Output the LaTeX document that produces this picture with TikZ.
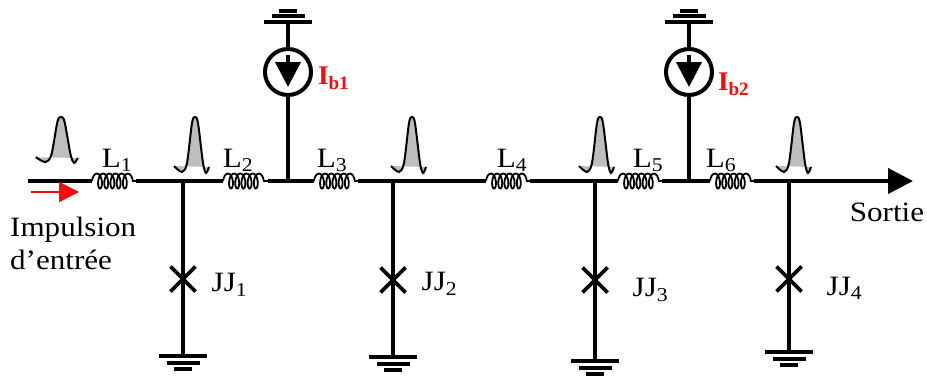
\documentclass[tikz,border=0pt]{standalone}
\usepackage{fontspec}
\setmainfont[FakeStretch=1.11]{Liberation Serif}
\newfontfamily\currentfont{Liberation Serif}
\usepackage{tikz}
\usetikzlibrary{shapes,shapes.misc,arrows.meta,positioning,decorations.pathmorphing}
\definecolor{red}{RGB}{250, 10, 10}
\definecolor{pulsegray}{RGB}{190, 190, 190}
\tikzstyle{twire} = [draw, line width=4pt, black]
\tikzstyle{tcoil} = [draw, line width=1.8pt, black, decorate, decoration={coil, aspect=0.45, segment length=6.2pt, amplitude=7.5pt}]
\tikzstyle{jj} = [cross out, draw=black, line width=3.6pt, minimum size=25pt, inner sep=0pt, outer sep=0pt]
\tikzstyle{source} = [circle, draw=black, line width=4pt, fill=white, minimum size=46pt, inner sep=0pt]
\tikzstyle{label} = [inner sep=0pt, font=\fontsize{28}{33}\selectfont]
\tikzstyle{current} = [inner sep=0pt, text=red, font=\fontsize{27}{28}\currentfont\bfseries]
\tikzstyle{tsense} = [draw, line width=1.5pt, red, -{Triangle[length=20pt,width=20pt]}]
\tikzset{
  pics/gnd/.style={code={
    \draw[line width=4pt] (-24,0) -- (24,0);
    \draw[line width=4pt] (-16.5,-7) -- (16.5,-7);
    \draw[line width=4pt] (-9,-13) -- (9,-13);
  }},
  pics/pulse/.style={code={
    \fill[pulsegray] plot[smooth] coordinates {(-21,-49) (-13,-55) (-8,-46) (-3,-6) (0,0) (3,-6) (8,-46) (11,-56) (14,-50)} -- cycle;
    \draw[line width=2pt] plot[smooth] coordinates {(-21,-49) (-13,-55) (-8,-46) (-3,-6) (0,0) (3,-6) (8,-46) (11,-56) (14,-50)};
  }}
}
\begin{document}
\begin{tikzpicture}[x=1pt, y=1pt]
\useasboundingbox (0,0) rectangle (927,376);

% main line ==============================

\coordinate (in) at (28,195);
\coordinate[right=64pt of in] (l1in);
\coordinate[right=44pt of l1in] (l1out);
\coordinate[right=47pt of l1out] (j1);
\coordinate[right=40pt of j1] (l2in);
\coordinate[right=45pt of l2in] (l2out);
\coordinate[right=20pt of l2out] (b1);
\coordinate[right=26pt of b1] (l3in);
\coordinate[right=44pt of l3in] (l3out);
\coordinate[right=35pt of l3out] (j2);
\coordinate[right=93pt of j2] (l4in);
\coordinate[right=44pt of l4in] (l4out);
\coordinate[right=65pt of l4out] (j3);
\coordinate[right=23pt of j3] (l5in);
\coordinate[right=44pt of l5in] (l5out);
\coordinate[right=27pt of l5out] (b2);
\coordinate[right=21pt of b2] (l6in);
\coordinate[right=44pt of l6in] (l6out);
\coordinate[right=35pt of l6out] (j4);
\coordinate[right=124pt of j4] (out);

% junctions to ground
\node[jj, below=85.5pt of j1] (jj1) {};
\node[jj, below=86.5pt of j2] (jj2) {};
\node[jj, below=86.5pt of j3] (jj3) {};
\node[jj, below=85.5pt of j4] (jj4) {};
\coordinate[below=77pt of jj1.center] (g1);
\coordinate[below=77pt of jj2.center] (g2);
\coordinate[below=81pt of jj3.center] (g3);
\coordinate[below=73pt of jj4.center] (g4);

% bias sources
\node[source, above=84pt of b1] (s1) {};
\node[source, above=84pt of b2] (s2) {};
\coordinate[above=50pt of s1.center] (gt1);
\coordinate[above=50pt of s2.center] (gt2);
\coordinate[above=17pt of s1.center] (s1top);
\coordinate[below=15pt of s1.center] (s1tip);
\coordinate[above=17pt of s2.center] (s2top);
\coordinate[below=15pt of s2.center] (s2tip);

% edges ==================================

\path[twire] (in) -- (l1in);
\path[tcoil] (l1in) -- (l1out);
\path[twire] (l1out) -- (l2in);
\path[tcoil] (l2in) -- (l2out);
\path[twire] (l2out) -- (l3in);
\path[tcoil] (l3in) -- (l3out);
\path[twire] (l3out) -- (l4in);
\path[tcoil] (l4in) -- (l4out);
\path[twire] (l4out) -- (l5in);
\path[tcoil] (l5in) -- (l5out);
\path[twire] (l5out) -- (l6in);
\path[tcoil] (l6in) -- (l6out);
\path[twire, -{Triangle[length=25pt,width=25pt]}] (l6out) -- (out);

\path[twire] (j1) -- (jj1.center);
\path[twire] (jj1.center) -- (g1);
\path[twire] (j2) -- (jj2.center);
\path[twire] (jj2.center) -- (g2);
\path[twire] (j3) -- (jj3.center);
\path[twire] (jj3.center) -- (g3);
\path[twire] (j4) -- (jj4.center);
\path[twire] (jj4.center) -- (g4);

\path[twire] (b1) -- (s1);
\path[twire] (s1) -- (gt1);
\path[twire] (b2) -- (s2);
\path[twire] (s2) -- (gt2);
\path[twire, -{Triangle[length=25pt,width=25pt]}] (s1top) -- (s1tip);
\path[twire, -{Triangle[length=25pt,width=25pt]}] (s2top) -- (s2tip);

% grounds
\pic at (g1) {gnd};
\pic at (g2) {gnd};
\pic at (g3) {gnd};
\pic at (g4) {gnd};
\pic[yscale=-0.85] at (gt1) {gnd};
\pic[yscale=-0.85] at (gt2) {gnd};

% pulses
\coordinate[above right=64pt and 33pt of in] (p1);
\coordinate[above right=64pt and 12pt of j1] (p2);
\coordinate[above right=64pt and 19pt of j2] (p3);
\coordinate[above right=64pt and 5pt of j3] (p4);
\coordinate[above right=64pt and 8pt of j4] (p5);
\pic[xscale=1.2, yscale=0.82] at (p1) {pulse};
\pic at (p2) {pulse};
\pic at (p3) {pulse};
\pic at (p4) {pulse};
\pic at (p5) {pulse};

% input arrow
\coordinate[below right=11pt and 3pt of in] (ra);
\coordinate[right=48pt of ra] (rb);
\path[tsense] (ra) -- (rb);

% labels =================================

\node[label, above=9pt of l1in, xshift=25pt] (tl1) {L\textsubscript{1}};
\node[label, above=9pt of l2in, xshift=15pt] (tl2) {L\textsubscript{2}};
\node[label, above=9pt of l3in, xshift=18pt] (tl3) {L\textsubscript{3}};
\node[label, above=9pt of l4in, xshift=26pt] (tl4) {L\textsubscript{4}};
\node[label, above=9pt of l5in, xshift=30pt] (tl5) {L\textsubscript{5}};
\node[label, above=9pt of l6in, xshift=11pt] (tl6) {L\textsubscript{6}};

\node[label, right=16pt of jj1, yshift=-6pt] (tj1) {JJ\textsubscript{1}};
\node[label, right=16pt of jj2, yshift=-4pt] (tj2) {JJ\textsubscript{2}};
\node[label, right=25pt of jj3, yshift=-10pt] (tj3) {JJ\textsubscript{3}};
\node[label, right=25pt of jj4, yshift=-9pt] (tj4) {JJ\textsubscript{4}};

\node[current, right=5pt of s1, yshift=-6pt] (ti1) {I\textsubscript{b1}};
\node[current, right=4pt of s2, yshift=-12pt] (ti2) {I\textsubscript{b2}};

\node[label, align=left, below right=36pt and -18pt of in] (tin) {Impulsion\\d’entrée};
\node[label, below=22pt of out, xshift=-26pt] (tout) {Sortie};

\end{tikzpicture}
\end{document}
